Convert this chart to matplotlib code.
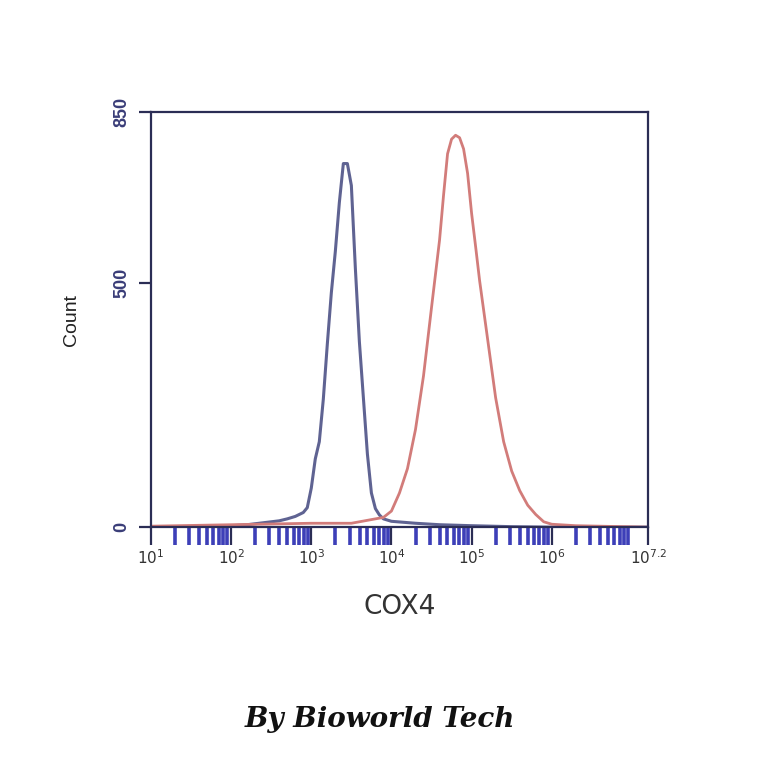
import matplotlib
matplotlib.use("Agg")
import numpy as np
import matplotlib.pyplot as plt
from matplotlib.ticker import FixedLocator, LogLocator, NullFormatter

# histogram outlines (log10 of COX4 intensity, count)
blue_log = [1.0, 1.5, 2.0, 2.2, 2.4, 2.6, 2.7, 2.8, 2.9, 2.95, 3.0, 3.05, 3.1,
            3.15, 3.2, 3.25, 3.3, 3.35, 3.4, 3.45, 3.5, 3.55, 3.6, 3.65, 3.7,
            3.75, 3.8, 3.85, 3.9, 4.0, 4.3, 4.6, 5.0, 5.5, 6.0, 7.2]
blue_count = [0, 1, 3, 5, 9, 13, 17, 22, 30, 40, 80, 140, 175,
              262, 375, 480, 565, 665, 745, 745, 700, 530, 380, 265, 150,
              70, 38, 25, 17, 12, 8, 5, 3, 1, 0, 0]

red_log = [1.0, 2.0, 3.0, 3.5, 3.9, 4.0, 4.1, 4.2, 4.3, 4.4, 4.5, 4.6, 4.65,
           4.7, 4.75, 4.8, 4.85, 4.9, 4.95, 5.0, 5.05, 5.1, 5.2, 5.3, 5.4,
           5.5, 5.6, 5.7, 5.8, 5.9, 6.0, 6.3, 7.2]
red_count = [2, 5, 8, 8, 20, 33, 70, 120, 200, 310, 450, 588, 680,
             765, 795, 803, 798, 775, 725, 643, 575, 505, 385, 265, 175,
             115, 75, 45, 26, 11, 6, 3, 0]

y_ticks = [0, 500, 850]
x_tick_exp = [1, 2, 3, 4, 5, 6, 7.2]
x_tick_labels = ["$10^{1}$", "$10^{2}$", "$10^{3}$", "$10^{4}$",
                 "$10^{5}$", "$10^{6}$", "$10^{7.2}$"]

axis_col = "#2b2d55"
label_col = "#3a3d78"

fig = plt.figure(figsize=(7.64, 7.64), dpi=100)
ax = fig.add_axes([0.1976, 0.310, 0.6505, 0.543])

ax.plot(10 ** np.array(blue_log), blue_count, color="#5f6392", lw=2.2)
ax.plot(10 ** np.array(red_log), red_count, color="#d27c7a", lw=2.0)

ax.set_xscale("log")
ax.set_xlim(10 ** 1, 10 ** 7.2)
ax.set_ylim(0, 850)

for s in ax.spines.values():
    s.set_color(axis_col)
    s.set_linewidth(1.6)

# y axis
ax.yaxis.set_major_locator(FixedLocator(y_ticks))
ax.set_yticklabels([str(v) for v in y_ticks], rotation=90, va="center",
                   fontsize=13, color=label_col, fontweight="bold",
                   family="Liberation Sans")
ax.tick_params(axis="y", direction="out", length=9, width=1.6,
               color=axis_col, pad=6)

# x axis: decades + minor log ticks hanging under the baseline
ax.xaxis.set_major_locator(FixedLocator([10 ** e for e in x_tick_exp]))
ax.set_xticklabels(x_tick_labels, fontsize=11, color="#333333")
ax.xaxis.set_minor_locator(LogLocator(base=10, subs=np.arange(2, 10),
                                      numticks=20))
ax.xaxis.set_minor_formatter(NullFormatter())
ax.tick_params(axis="x", which="major", direction="out", length=13,
               width=1.6, color=axis_col, pad=2)
ax.tick_params(axis="x", which="minor", direction="out", length=13,
               width=2.6, color="#3d3fb8")

ax.set_ylabel("Count", fontsize=14, color="#222222", labelpad=24,
              family="Liberation Sans")
ax.set_xlabel("COX4", fontsize=19, color="#333333", labelpad=20,
              family="DejaVu Sans")

fig.text(0.497, 0.058, "By Bioworld Tech", ha="center", va="center",
         fontsize=20, fontweight="bold", fontstyle="italic",
         family="DejaVu Serif", color="#111111")

fig.savefig("out.png", dpi=100, facecolor="white")
